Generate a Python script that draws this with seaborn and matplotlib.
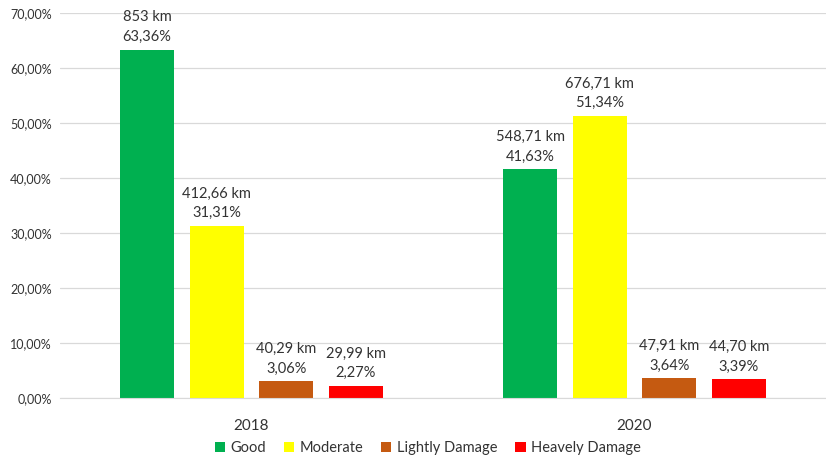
import pandas as pd
import matplotlib
matplotlib.use("Agg")
import matplotlib.pyplot as plt
import seaborn as sns
from matplotlib.ticker import FuncFormatter, FixedLocator

# Road condition data
years = ["2018", "2020"]
conditions = ["Good", "Moderate", "Lightly Damage", "Heavely Damage"]
pct_2018 = [63.36, 31.31, 3.06, 2.27]
pct_2020 = [41.63, 51.34, 3.64, 3.39]
km_2018 = ["853", "412,66", "40,29", "29,99"]
km_2020 = ["548,71", "676,71", "47,91", "44,70"]
colors = ["#00B050", "#FFFF00", "#C55A11", "#FF0000"]

rows = []
for year, pcts, kms in [("2018", pct_2018, km_2018), ("2020", pct_2020, km_2020)]:
    for cond, p, k in zip(conditions, pcts, kms):
        rows.append({"year": year, "condition": cond, "pct": p / 100, "km": k})
df = pd.DataFrame(rows)

sns.set_style("white")
plt.rcParams['font.family'] = ['Lato', 'DejaVu Sans']

fig = plt.figure(figsize=(8.26, 4.59), dpi=100)
ax = fig.add_axes([60 / 826, 61 / 459, 1 - 60 / 826, (398 - 13) / 459])

sns.barplot(data=df, x="year", y="pct", hue="condition", order=years,
            hue_order=conditions, palette=colors, width=0.727, gap=0.22,
            saturation=1, linewidth=0, ax=ax, legend=True)

# Value labels above bars
for container, cond in zip(ax.containers, conditions):
    sub = df[df["condition"] == cond].set_index("year").loc[years]
    for bar, (_, r) in zip(container, sub.iterrows()):
        pct_txt = f"{r['pct'] * 100:.2f}%".replace(".", ",")
        ax.annotate(f"{r['km']} km\n{pct_txt}",
                    (bar.get_x() + bar.get_width() / 2, bar.get_height()),
                    xytext=(0, 4), textcoords="offset points",
                    ha="center", va="bottom", fontsize=10.5,
                    color="#333333", linespacing=1.5)

ax.set_ylim(0, 0.7)
ax.set_xlim(-0.5, 1.474)
ax.yaxis.set_major_locator(FixedLocator([i / 10 for i in range(8)]))
ax.yaxis.set_major_formatter(FuncFormatter(lambda v, _: f"{v * 100:.2f}%".replace(".", ",")))
ax.grid(axis="y", color="#D9D9D9", linewidth=0.9)
ax.set_axisbelow(True)
for s in ["top", "right", "left"]:
    ax.spines[s].set_visible(False)
ax.spines["bottom"].set_color("#D9D9D9")

ax.set_xticks([-0.5, 0.5, 1.5], minor=True)
ax.tick_params(axis="x", which="minor", length=5, color="#D9D9D9", width=0.9)
ax.tick_params(axis="x", which="major", length=0, labelsize=11, labelcolor="#333333", pad=15)
ax.tick_params(axis="y", length=0, labelsize=9, labelcolor="#333333", pad=6)
ax.set_xlabel("")
ax.set_ylabel("")

ax.legend(loc="center", bbox_to_anchor=(0.5 - 15 / 766, -0.13), ncol=4, frameon=False,
          fontsize=10.5, handlelength=0.7, handleheight=0.7, handletextpad=0.4,
          columnspacing=1.2, labelcolor="#333333")

fig.savefig("out.png", dpi=100)
